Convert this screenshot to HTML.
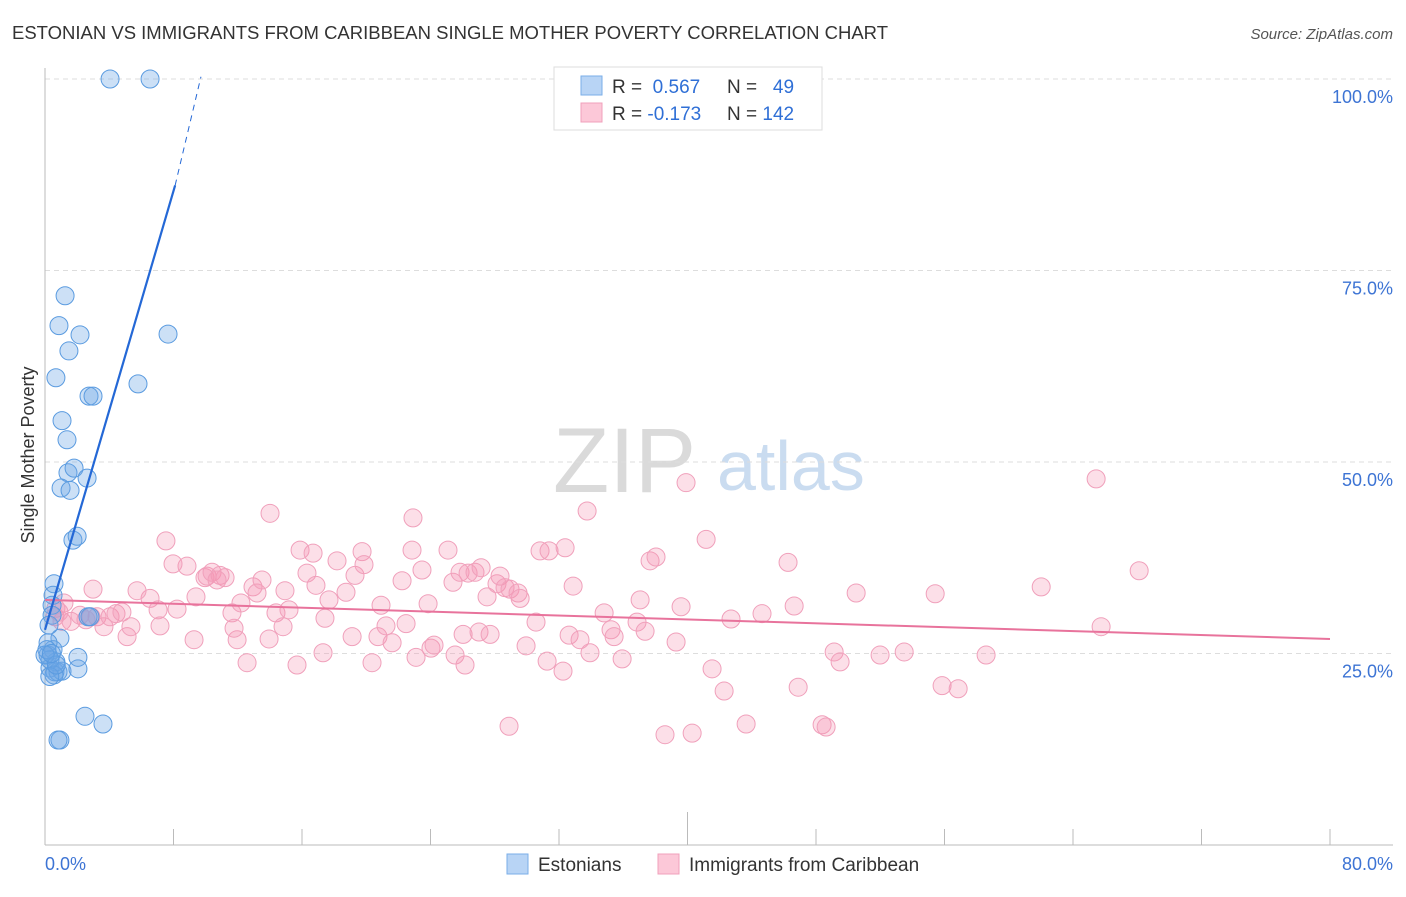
<!DOCTYPE html>
<html><head><meta charset="utf-8"><style>
body{margin:0;background:#fff;font-family:"Liberation Sans",sans-serif;}
svg text{font-family:"Liberation Sans",sans-serif;}
</style></head><body>
<svg width="1406" height="892" viewBox="0 0 1406 892">
<text x="12" y="39" font-size="18" fill="#333" textLength="876" lengthAdjust="spacingAndGlyphs">ESTONIAN VS IMMIGRANTS FROM CARIBBEAN SINGLE MOTHER POVERTY CORRELATION CHART</text>
<text x="1393" y="39" font-size="15" fill="#555" font-style="italic" text-anchor="end">Source: ZipAtlas.com</text>
<g>
<text x="553" y="492" font-size="92" font-family="Liberation Serif" fill="#dadada">ZIP</text>
<text x="717" y="490" font-size="70" fill="#cadcf0">atlas</text>
</g>
<g id="grid"></g>
<g id="axes"></g>
<text x="34" y="455" font-size="18" fill="#333" text-anchor="middle" transform="rotate(-90 34 455)">Single Mother Poverty</text>
<g id="pink"></g>
<g id="blue"></g>
<g id="lines"></g>
<g>
<rect x="554" y="67" width="268" height="63" fill="#fff" stroke="#ddd"/>
<rect x="581" y="76" width="21" height="19" fill="#b8d4f5" stroke="#7aaee8"/>
<rect x="581" y="103" width="21" height="19" fill="#fcc8d8" stroke="#f0a0bb"/>
<text x="612" y="93" font-size="19" fill="#333">R = <tspan fill="#2f6fd6">&#160;0.567</tspan></text>
<text x="727" y="93" font-size="19" fill="#333">N = <tspan fill="#2f6fd6">&#160;&#160;49</tspan></text>
<text x="612" y="120" font-size="19" fill="#333">R = <tspan fill="#2f6fd6">-0.173</tspan></text>
<text x="727" y="120" font-size="19" fill="#333">N = <tspan fill="#2f6fd6">142</tspan></text>
</g>
<g>
<rect x="507" y="854" width="21" height="20" fill="#b8d4f5" stroke="#7aaee8"/>
<text x="538" y="871" font-size="19" fill="#333">Estonians</text>
<rect x="658" y="854" width="21" height="20" fill="#fcc8d8" stroke="#f0a0bb"/>
<text x="689" y="871" font-size="19" fill="#333">Immigrants from Caribbean</text>
</g>
</svg>
<script>
const yTicks=[25,50,75,100];
const yTickLabels=["25.0%","50.0%","75.0%","100.0%"];
const xTicks=[0,8,16,24,32,40,48,56,64,72,80];
const xTickLabels=["0.0%","80.0%"];
const blueX=[4.05,6.54,1.25,0.87,2.18,1.49,0.68,5.79,7.66,2.74,2.99,1.06,1.37,1.43,1.81,1.0,1.56,2.62,1.74,2.0,0.56,0.5,0.44,0.93,0.5,0.19,0.31,0.62,0.81,1.06,2.05,2.05,0.68,2.49,3.61,0.93,0.81,2.68,0.44,0.19,0.31,0.12,0.25,2.8,0.56,0,0.3,0.7,0.4];
const blueY=[100,100,71.7,67.8,66.6,64.5,61.0,60.2,66.7,58.6,58.6,55.4,52.9,48.6,49.2,46.6,46.3,47.9,39.8,40.3,34.1,32.6,31.3,27.0,25.5,24.8,23.1,22.6,22.6,22.7,23.0,24.5,23.9,16.8,15.8,13.7,13.7,29.8,30.0,26.4,24.2,25.5,28.7,29.8,22.2,24.8,22.0,23.5,25.0];
const pinkX=[8.84,7.97,2.99,6.54,5.73,5.11,7.04,7.53,9.28,8.22,7.16,9.96,10.09,10.40,10.90,11.21,11.64,11.96,12.58,12.20,12.95,13.20,13.51,13.95,14.38,14.82,14.94,15.19,14.01,15.69,15.88,16.69,16.31,16.87,17.31,17.43,17.68,18.18,18.74,19.12,19.30,19.74,19.86,20.36,20.73,20.92,21.23,21.61,22.23,22.48,22.85,22.91,23.10,23.47,23.85,24.03,24.22,25.09,25.40,25.53,25.84,26.15,26.03,26.34,26.77,27.02,27.15,27.52,27.71,28.14,28.33,28.64,28.95,29.45,29.58,29.95,30.57,30.82,31.26,31.38,32.25,32.38,32.63,32.88,33.31,33.75,33.93,34.81,35.24,35.43,35.93,36.86,37.05,37.36,37.67,38.04,38.60,39.29,39.91,39.60,40.29,41.16,41.53,42.28,42.71,43.65,44.64,46.26,46.64,46.89,48.38,48.63,49.13,49.50,50.50,51.99,53.49,55.42,55.85,56.85,58.59,62.02,65.44,65.75,68.12,28.89,1.18,0.68,0.62,1.06,1.62,2.18,2.86,3.24,3.67,4.05,4.42,4.79,5.35,0.87,2.55,9.40,10.71,11.77];
const pinkY=[36.4,36.7,33.4,32.2,33.2,27.2,30.7,39.7,26.8,30.8,28.6,34.9,35.1,35.6,35.2,34.9,30.3,26.8,23.8,31.6,33.7,32.9,34.6,26.9,30.3,28.5,33.2,30.7,43.3,23.5,38.5,38.1,35.5,33.9,25.1,29.6,32.0,37.1,33.0,27.2,35.2,38.3,36.6,23.8,27.2,31.3,28.6,26.4,34.5,28.9,38.5,42.7,24.5,35.9,31.5,25.7,26.1,38.5,34.3,24.8,35.6,23.5,27.5,35.5,35.6,27.8,36.2,32.4,27.5,34.1,35.1,33.6,33.4,32.9,32.2,26.0,29.1,38.4,24.0,38.4,22.7,38.8,27.4,33.8,26.8,43.6,25.1,30.3,28.1,27.2,24.3,29.1,32.0,27.9,37.1,37.6,14.4,26.5,47.3,31.1,14.6,39.9,23.0,20.1,29.5,15.8,30.2,36.9,31.2,20.6,15.7,15.4,25.2,23.9,32.9,24.8,25.2,32.8,20.8,20.4,24.8,33.7,47.8,28.5,35.8,15.5,31.6,30.9,29.8,29.2,29.2,30.0,29.8,29.8,28.5,29.8,30.2,30.4,28.5,30.4,29.4,32.4,34.6,28.3];
const blueTrend=[[0,28.1],[8.1,86.1],[12.2,100.3]];
const pinkTrend=[[0,32.0],[80,26.9]];
const X=v=>45+v/80*1285, Y=v=>845-v/100*766;
const NS="http://www.w3.org/2000/svg";
function mk(tag,attrs,parent){const e=document.createElementNS(NS,tag);for(const k in attrs)e.setAttribute(k,attrs[k]);parent.appendChild(e);return e;}
const grid=document.getElementById('grid'),axes=document.getElementById('axes');
yTicks.forEach((t,i)=>{
 const l=mk('line',{x1:45,x2:1393,y1:Y(t),y2:Y(t),stroke:'#ddd','stroke-dasharray':'5,4'},grid);
 
 
 const tx=mk('text',{x:1393,y:Y(t)+24,'font-size':18,fill:'#3d74d4','text-anchor':'end'},axes);
 tx.textContent=yTickLabels[i];
 
 
});
mk('line',{x1:45,x2:45,y1:68,y2:845,stroke:'#bbb'},axes);
mk('line',{x1:45,x2:1393,y1:845,y2:845,stroke:'#bbb'},axes);
xTicks.forEach((t,i)=>{
 const l=mk('line',{x1:X(t),x2:X(t),y1:(i==5?812:829),y2:845,stroke:'#bbb'},axes);
 
 
});
const xl0=mk('text',{x:45,y:870,'font-size':18,fill:'#3d74d4'},axes);xl0.textContent=xTickLabels[0];


const xl1=mk('text',{x:1393,y:870,'font-size':18,fill:'#3d74d4','text-anchor':'end'},axes);xl1.textContent=xTickLabels[1];


const pg=document.getElementById('pink');
pinkX.forEach((v,i)=>{const c=mk('circle',{cx:X(v),cy:Y(pinkY[i]),r:9,fill:'rgba(245,150,180,0.3)',stroke:'#f0a0bb','stroke-width':1},pg);
 
 });
const bg=document.getElementById('blue');
blueX.forEach((v,i)=>{const c=mk('circle',{cx:X(v),cy:Y(blueY[i]),r:9,fill:'rgba(110,165,230,0.35)',stroke:'#5a9be0','stroke-width':1},bg);
 
 });
const lg=document.getElementById('lines');
const pl=mk('line',{x1:X(pinkTrend[0][0]),y1:Y(pinkTrend[0][1]),x2:X(pinkTrend[1][0]),y2:Y(pinkTrend[1][1]),stroke:'#e8739c','stroke-width':2},lg);


const bl=mk('line',{x1:X(blueTrend[0][0]),y1:Y(blueTrend[0][1]),x2:X(blueTrend[1][0]),y2:Y(blueTrend[1][1]),stroke:'#2468d6','stroke-width':2.2},lg);


const bd=mk('line',{x1:X(blueTrend[1][0]),y1:Y(blueTrend[1][1]),x2:X(blueTrend[2][0])-40,y2:Y(blueTrend[2][1]),stroke:'#2468d6','stroke-width':1,'stroke-dasharray':'6,5'},lg);


</script>
</body></html>
